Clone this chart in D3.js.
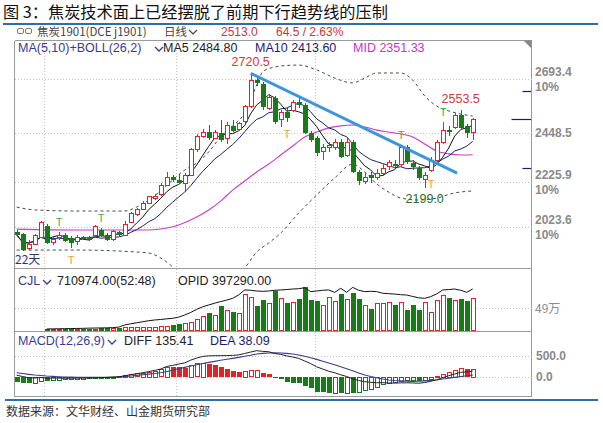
<!DOCTYPE html>
<html><head><meta charset="utf-8">
<script src="https://cdn.jsdelivr.net/npm/d3@7"></script>
<style>body{margin:0;background:#fff}svg{display:block}text{font-family:"Liberation Sans",Arial,sans-serif}</style>
</head><body><svg id="c" width="603" height="423"></svg>
<script>
// ---------- data ----------
const open  = [2001,1990,1924,1946,1978,2028,1951,1978,1987,1974,1956,1978,1974,1983,2010,1987,1965,2001,1987,2046,2078,2105,2132,2155,2169,2214,2250,2237,2223,2259,2373,2432,2454,2427,2450,2427,2482,2468,2500,2568,2690,2672,2563,2609,2509,2545,2554,2590,2577,2450,2427,2364,2382,2386,2409,2350,2409,2273,2232,2259,2250,2268,2296,2309,2305,2386,2314,2291,2241,2282,2327,2409,2463,2477,2531,2482,2450];
const high  = [2012,1995,1965,1992,2051,2037,1978,2001,1996,1983,1987,1983,1983,2033,2019,1996,2010,2005,2051,2092,2110,2141,2164,2173,2223,2273,2259,2264,2268,2382,2445,2468,2486,2463,2509,2500,2509,2500,2577,2720.5,2699,2681,2627,2618,2554,2563,2600,2613,2586,2459,2436,2400,2409,2423,2423,2427,2418,2282,2268,2273,2287,2309,2327,2327,2395,2395,2327,2300,2273,2341,2418,2500,2482,2541,2553.5,2491,2518];
const low   = [1983,1913,1919,1942,1974,1946,1942,1965,1956,1928,1942,1965,1960,1978,1978,1960,1960,1983,1983,2042,2073,2101,2128,2146,2164,2210,2228,2219,2182,2255,2364,2427,2418,2423,2409,2400,2454,2459,2491,2563,2663,2554,2554,2491,2477,2500,2545,2563,2445,2409,2346,2327,2364,2373,2336,2341,2268,2214,2219,2223,2237,2255,2282,2291,2296,2309,2282,2237,2199,2273,2318,2400,2436,2468,2463,2427,2418];
const close = [1988,1920,1946,1983,2046,1951,1965,1983,1960,1951,1978,1969,1965,2024,1983,1965,2001,1987,2037,2083,2101,2132,2160,2160,2214,2250,2237,2223,2259,2373,2432,2454,2427,2450,2418,2482,2459,2491,2568,2690,2677,2568,2613,2500,2545,2518,2590,2577,2450,2418,2359,2382,2391,2409,2341,2409,2273,2232,2250,2246,2268,2291,2314,2300,2386,2318,2296,2246,2259,2327,2405,2463,2454,2531,2473,2448.5,2513];
const volume = [0,0,0,0,0,1.5,1.5,2,2,2,2.5,2.5,3,3,3.5,3.5,4,5,6,6,6,6.5,7.5,7.5,9,10,11,13,15,19,24,32,39,34,54,45,41,38,81,75,55,68,60,88,72,60,64,70,96,68,66,57,75,66,81,69,83,70,57,47,60,60,64,57,63,45,57,45,64,40,68,78,73,68,70,66,72];
const openInterest = [null,null,null,null,null,1.0,1.1,1.2,1.3,1.4,1.5,1.6,1.8,1.9,2.0,2.1,2.3,2.8,4.9,6,7,8,9,9.7,10.2,10.8,11.3,12.5,14.5,17,20,22.5,24.2,26,27.5,29,30.7,34,38.8,38.5,37.8,37.5,37.8,38.5,38.8,39.2,39.7,40,41,37.2,37.8,38.5,38.8,36.5,40.4,36.5,41.3,38.5,37.2,37.5,37.2,35.6,35.2,34.8,34.2,33.9,32.5,31.2,30.7,32.3,35,38.8,39.2,39.7,38.5,36.5,39.729];
const macdBar = [-119,-143,-159,-143,-95,-100,-80,-64,-56,-48,-40,-38,-32,-24,-16,-8,-2,8,40,64,79,95,119,143,175,238,230,222,214,278,318,337,310,270,222,175,143,119,135,150,160,95,60,-40,-64,-119,-143,-159,-222,-278,-357,-375,-390,-378,-386,-370,-380,-360,-318,-278,-238,-175,-143,-119,-95,-79,-75,-95,-79,-40,16,64,119,159,198,183,194.64];
const deaLine = [95,75,56,40,28,16,8,0,-8,-11,-13,-15,-16,-16,-15,-13,-11,-8,2,15,32,46,62,78,95,125,155,190,222,255,285,315,341,365,390,415,437,460,485,512,540,555,565,572,565,555,540,515,485,450,413,370,325,283,238,190,140,90,40,5,-25,-55,-79,-92,-100,-106,-111,-108,-100,-90,-79,-55,-35,-16,5,22,38.09];
// Bollinger bands read at points [candle index, price]
const bollUpper = [[0,2114],[3,2101],[10,2096],[18,2096],[20,2114],[22,2146],[24,2187],[26,2237],[28,2282],[30,2314],[32,2364],[34,2432],[36,2482],[38,2541],[39,2600],[40,2668],[41,2727],[43,2749],[45,2756],[47,2758],[50,2736],[53,2699],[56,2677],[58,2699],[60,2722],[64,2722],[66,2690],[68,2618],[70,2572],[72,2550],[74,2536],[76,2527]];
const bollMid = [[0,2014],[10,2010],[22,2010],[25,2019],[27,2033],[30,2069],[32,2101],[34,2141],[36,2191],[38,2232],[40,2273],[42,2309],[44,2350],[46,2391],[48,2432],[50,2454],[52,2473],[54,2482],[56,2486],[58,2477],[60,2463],[63,2450],[66,2432],[68,2400],[70,2368],[72,2355],[74,2350],[76,2351.33]];
const bollLower = [[0,1919],[10,1919],[20,1910],[22,1906],[24,1883],[25,1865],[27,1819],[31,1760],[35,1774],[38,1838],[40,1910],[42,1951],[44,1996],[47,2087],[50,2169],[53,2246],[56,2309],[58,2273],[60,2219],[62,2182],[64,2155],[67,2146],[70,2155],[73,2178],[76,2187]];
const trendLine = [[39,2720.5],[73.4,2268]];
const priceTicks = [2693.4,2448.5,2225.9,2023.6];
const pctTicks = [2693.4,2225.9,2023.6];
const monthBreaks = [4.5,26.5,49.7];
const sideMarks = [[2640,9],[2513,20],[2291,9]];
const topT = [7,14,64,71];      // green T above highs
const bottomT = [9,45,69];      // orange T below lows
const peakLabels = [[39,"2720.5","high"],[74,"2553.5","high"],[68,"2199.0","low"]];
const legendMain = ["MA(5,10)+BOLL(26,2)","MA5 2484.80","MA10 2413.60","MID 2351.33"];
const legendVol = ["CJL","710974.00(52:48)","OPID 397290.00"];
const legendMacd = ["MACD(12,26,9)","DIFF 135.41","DEA 38.09"];
const header = ["焦炭1901(DCE j1901)","日线","2513.0","64.5 / 2.63%"];

// ---------- drawing ----------
const RED="#e02424", GREEN="#167d16";
const svg=d3.select("#c");
const L=14.5,R=531.5,T0=40.5,MB=268.5,VB=331.5,KB=396.5;
const N=close.length;
const x=d3.scaleLinear().domain([0,N-1]).range([16.7,472.7]);
const y=d3.scaleLinear().domain([2448.5,2693.4]).range([133.3,79.3]);
const yv=d3.scaleLinear().domain([0,49]).range([330,308.3]);
const yo=d3.scaleLinear().domain([0,39.729]).range([330,289]);
const ym=d3.scaleLinear().domain([0,500]).range([376.7,355.7]);
const cx=i=>Math.round(x(i));

// title
svg.append("text").attr("x",3).attr("y",18).attr("font-size",16.2)
  .style("font-family","'Noto Sans CJK SC',sans-serif").attr("fill","#111")
  .text("图 3：焦炭技术面上已经摆脱了前期下行趋势线的压制");
svg.append("line").attr("x1",3).attr("x2",598).attr("y1",24).attr("y2",24).attr("stroke","#2f6ea5").attr("stroke-width",2);
svg.append("line").attr("x1",5).attr("x2",598).attr("y1",400).attr("y2",400).attr("stroke","#2f6ea5").attr("stroke-width",2);
svg.append("text").attr("x",6).attr("y",416).attr("font-size",12)
  .style("font-family","'Noto Sans CJK SC',sans-serif").attr("fill","#333")
  .text("数据来源：文华财经、山金期货研究部");

// header row
svg.append("rect").attr("x",17.5).attr("y",28.5).attr("width",6).attr("height",5).attr("rx",1.5).attr("fill","none").attr("stroke","#777");
svg.append("rect").attr("x",25.5).attr("y",28.5).attr("width",6).attr("height",5).attr("rx",1.5).attr("fill","none").attr("stroke","#777");
const hdr=svg.append("g").attr("font-size",12);
hdr.append("text").attr("x",37).attr("y",36).attr("fill","#444").style("font-family","'Noto Sans CJK SC',sans-serif").attr("font-size",11.5).text(header[0]);
hdr.append("text").attr("x",164).attr("y",36).attr("fill","#444").style("font-family","'Noto Sans CJK SC',sans-serif").attr("font-size",11.5).text(header[1]);
svg.append("path").attr("d","M189,30 L193,34 L197,30").attr("fill","none").attr("stroke","#444").attr("stroke-width",1.2);
hdr.append("text").attr("x",221).attr("y",36).attr("fill","#cc3344").text(header[2]);
hdr.append("text").attr("x",276).attr("y",36).attr("fill","#cc3344").text(header[3]);

// frames
const fr=svg.append("g").attr("stroke","#9a9a9a").attr("fill","none").attr("shape-rendering","crispEdges");
fr.append("line").attr("x1",L).attr("x2",L).attr("y1",T0).attr("y2",KB);
fr.append("line").attr("x1",R).attr("x2",R).attr("y1",T0).attr("y2",KB);
[T0,MB,VB,KB].forEach(v=>fr.append("line").attr("x1",L).attr("x2",R).attr("y1",v).attr("y2",v));
svg.append("path").attr("d",`M${R-8},${T0} L${R},${T0} L${R},${T0+8} Z`).attr("fill","#888");

// gridlines
const grid=svg.append("g").attr("stroke","#c4c4c4").attr("stroke-dasharray","1,2").attr("shape-rendering","crispEdges");
priceTicks.forEach(p=>grid.append("line").attr("x1",L).attr("x2",R).attr("y1",Math.round(y(p))+0.5).attr("y2",Math.round(y(p))+0.5));
grid.append("line").attr("x1",L).attr("x2",R).attr("y1",Math.round(yv(49))+0.5).attr("y2",Math.round(yv(49))+0.5);
[500,0].forEach(v=>grid.append("line").attr("x1",L).attr("x2",R).attr("y1",Math.round(ym(v))+0.5).attr("y2",Math.round(ym(v))+0.5));
monthBreaks.forEach(b=>grid.append("line").attr("x1",Math.round(x(b))+0.5).attr("x2",Math.round(x(b))+0.5).attr("y1",T0).attr("y2",KB));

// right axis labels
const ax=svg.append("g").attr("font-size",12).attr("fill","#8a8a8a").attr("font-weight","bold");
priceTicks.forEach(p=>{
  const isBase=p===2448.5;
  ax.append("text").attr("x",535).attr("y",y(p)+(isBase?4:-3)).text(p.toFixed(1));
});
pctTicks.forEach(p=>ax.append("text").attr("x",535).attr("y",y(p)+12).text("10%"));
ax.append("text").attr("x",535).attr("y",yv(49)+4.5).text("49万").style("font-family","'Noto Sans CJK SC',sans-serif").attr("font-weight","normal");
ax.append("text").attr("x",536).attr("y",ym(500)+4.5).text("500.0");
ax.append("text").attr("x",536).attr("y",ym(0)+4.5).text("0.0");

// clip paths
const defs=svg.append("defs");
defs.append("clipPath").attr("id","cm").append("rect").attr("x",L+0.5).attr("y",T0+0.5).attr("width",R-L-1).attr("height",MB-T0-1);
defs.append("clipPath").attr("id","cv").append("rect").attr("x",L+0.5).attr("y",MB+0.5).attr("width",R-L-1).attr("height",VB-MB-1);
defs.append("clipPath").attr("id","ck").append("rect").attr("x",L+0.5).attr("y",VB+0.5).attr("width",R-L-1).attr("height",KB-VB-1);

// main panel
const gm=svg.append("g").attr("clip-path","url(#cm)");
const ptLine=d3.line().x(d=>x(d[0])).y(d=>y(d[1])).curve(d3.curveMonotoneX);
gm.append("path").attr("d",ptLine(bollUpper)).attr("fill","none").attr("stroke","#3f4f3f").attr("stroke-dasharray","3,3");
gm.append("path").attr("d",ptLine(bollLower)).attr("fill","none").attr("stroke","#3f4f3f").attr("stroke-dasharray","3,3");
gm.append("path").attr("d",ptLine(bollMid)).attr("fill","none").attr("stroke","#c83cc8").attr("stroke-width",1.1);
function ma(n){return close.map((c,i)=>d3.mean(close.slice(Math.max(0,i-n+1),i+1)));}
const maLine=d3.line().x((d,i)=>x(i)).y(d=>y(d));
gm.append("path").attr("d",maLine(ma(10))).attr("fill","none").attr("stroke","#1c1c6b").attr("stroke-width",1);
gm.append("path").attr("d",maLine(ma(5))).attr("fill","none").attr("stroke","#111").attr("stroke-width",1);
// candles
const cg=gm.append("g").attr("shape-rendering","crispEdges");
close.forEach((c,i)=>{
  const up=c>=open[i], col=up?RED:GREEN, px=cx(i);
  cg.append("line").attr("x1",px+0.5).attr("x2",px+0.5).attr("y1",y(high[i])).attr("y2",y(low[i])).attr("stroke",col);
  const top=y(Math.max(c,open[i])), bot=y(Math.min(c,open[i]));
  if(up){
    cg.append("rect").attr("x",px-1.5).attr("y",top).attr("width",4).attr("height",Math.max(1,bot-top)).attr("fill","#fff").attr("stroke",col);
  } else {
    cg.append("rect").attr("x",px-2).attr("y",top).attr("width",5).attr("height",Math.max(1,bot-top)).attr("fill",col);
  }
});
// trend line
gm.append("line").attr("x1",x(trendLine[0][0])).attr("y1",y(trendLine[0][1])).attr("x2",x(trendLine[1][0])).attr("y2",y(trendLine[1][1]))
  .attr("stroke","#3d95dc").attr("stroke-width",3);
// T markers
topT.forEach(i=>gm.append("text").attr("x",x(i)+0.5).attr("y",y(high[i])-6).attr("text-anchor","middle").attr("font-size",11).attr("fill","#3cb043").text("T"));
bottomT.forEach(i=>gm.append("text").attr("x",x(i)+0.5).attr("y",y(low[i])+16).attr("text-anchor","middle").attr("font-size",11).attr("fill","#f0a030").text("T"));
// peak labels
peakLabels.forEach(([i,t,k])=>{
  const v=k==="high"?high[i]:low[i];
  gm.append("text").attr("x",x(i)).attr("y",k==="high"?y(v)-7:y(v)+15).attr("text-anchor","middle").attr("font-size",12.5)
    .attr("fill",k==="high"?"#d03a3a":"#2b6e2b").text(t);
});
// side marks
sideMarks.forEach(([p,len])=>gm.append("line").attr("x1",R-len).attr("x2",R).attr("y1",Math.round(y(p))+0.5).attr("y2",Math.round(y(p))+0.5).attr("stroke","#1c1c6b").attr("stroke-width",1.2));
gm.append("text").attr("x",15).attr("y",264).attr("font-size",12).attr("fill","#33336b").style("font-family","'Noto Sans CJK SC',sans-serif").text("22天");

// legend main
const lg=svg.append("g").attr("font-size",12.5);
lg.append("text").attr("x",18).attr("y",52).attr("fill","#3b3b8f").text(legendMain[0]);
svg.append("path").attr("d","M155,47 L159,51 L163,47").attr("fill","none").attr("stroke","#3b3b8f").attr("stroke-width",1.3);
lg.append("text").attr("x",163).attr("y",52).attr("fill","#222").text(legendMain[1]);
lg.append("text").attr("x",255).attr("y",52).attr("fill","#1c1c6b").text(legendMain[2]);
lg.append("text").attr("x",353).attr("y",52).attr("fill","#cc33cc").text(legendMain[3]);

// volume panel
const gv=svg.append("g").attr("clip-path","url(#cv)").attr("shape-rendering","crispEdges");
volume.forEach((v,i)=>{
  if(!v) return;
  const up=close[i]>=open[i], px=cx(i), t=yv(v);
  if(up) gv.append("rect").attr("x",px-1.5).attr("y",Math.round(t)+0.5).attr("width",4).attr("height",330-Math.round(t)).attr("fill","#fff").attr("stroke",RED);
  else gv.append("rect").attr("x",px-2).attr("y",t).attr("width",5).attr("height",330.5-t).attr("fill",GREEN);
});
const oiLine=d3.line().defined(d=>d!=null).x((d,i)=>x(i)).y(d=>yo(d));
svg.append("g").attr("clip-path","url(#cv)").append("path").attr("d",oiLine(openInterest)).attr("fill","none").attr("stroke","#111").attr("stroke-width",1);
const lv=svg.append("g").attr("font-size",12.5);
lv.append("text").attr("x",18).attr("y",285).attr("fill","#3b3b8f").text(legendVol[0]);
svg.append("path").attr("d","M43,280 L47,284 L51,280").attr("fill","none").attr("stroke","#3b3b8f").attr("stroke-width",1.3);
lv.append("text").attr("x",57).attr("y",285).attr("fill","#222").text(legendVol[1]);
lv.append("text").attr("x",178).attr("y",285).attr("fill","#222").text(legendVol[2]);

// MACD panel
const gk=svg.append("g").attr("clip-path","url(#ck)");
const bk=gk.append("g").attr("shape-rendering","crispEdges");
macdBar.forEach((v,i)=>{
  const col=v>=0?RED:GREEN, rising=i>0?v>macdBar[i-1]:false, px=cx(i);
  const y0=ym(0), y1=ym(v), top=Math.min(y0,y1), h=Math.max(1,Math.abs(y1-y0));
  if(rising) bk.append("rect").attr("x",px-1.5).attr("y",Math.round(top)+0.5).attr("width",4).attr("height",Math.round(h)).attr("fill","#fff").attr("stroke",col);
  else bk.append("rect").attr("x",px-2).attr("y",top).attr("width",5).attr("height",h).attr("fill",col);
});
const diff=deaLine.map((d,i)=>d+macdBar[i]/2);
const mLine=d3.line().x((d,i)=>x(i)).y(d=>ym(d));
gk.append("path").attr("d",mLine(deaLine)).attr("fill","none").attr("stroke","#3d3d8f").attr("stroke-width",1.1);
gk.append("path").attr("d",mLine(diff)).attr("fill","none").attr("stroke","#222").attr("stroke-width",1);
const lk=svg.append("g").attr("font-size",12.5);
lk.append("text").attr("x",18).attr("y",345).attr("fill","#3b3b8f").text(legendMacd[0]);
svg.append("path").attr("d","M108,340 L112,344 L116,340").attr("fill","none").attr("stroke","#3b3b8f").attr("stroke-width",1.3);
lk.append("text").attr("x",124).attr("y",345).attr("fill","#222").text(legendMacd[1]);
lk.append("text").attr("x",210).attr("y",345).attr("fill","#1c1c6b").text(legendMacd[2]);
</script></body></html>
